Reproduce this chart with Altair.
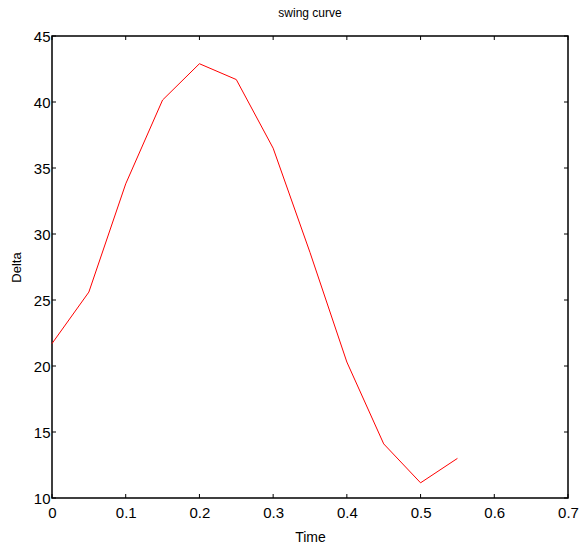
import altair as alt
import pandas as pd

time = [0, 0.05, 0.1, 0.15, 0.2, 0.25, 0.3, 0.35, 0.4, 0.45, 0.5, 0.55]
delta = [21.7, 25.6, 33.8, 40.15, 42.9, 41.7, 36.5, 28.6, 20.3, 14.1, 11.15, 13.0]
x_ticks = [0, 0.1, 0.2, 0.3, 0.4, 0.5, 0.6, 0.7]
y_ticks = [10, 15, 20, 25, 30, 35, 40, 45]

df = pd.DataFrame({"Time": time, "Delta": delta})
xt = pd.DataFrame({"t": x_ticks})
yt = pd.DataFrame({"t": y_ticks})

W, H = 516, 462
FONT = "Liberation Sans"

xscale = alt.Scale(domain=[0, 0.7], nice=False, zero=False)
yscale = alt.Scale(domain=[10, 45], nice=False, zero=False)

line = alt.Chart(df).mark_line(color="#ff0000", strokeWidth=1).encode(
    x=alt.X("Time:Q", scale=xscale, title="Time",
            axis=alt.Axis(values=x_ticks, format="~g", grid=False, ticks=False,
                          domain=False, labelPadding=7, titlePadding=10,
                          labelFontSize=15, titleFontSize=14, labelFont=FONT,
                          titleFont=FONT, labelColor="black", titleColor="black",
                          titleFontWeight="normal", labelFlush=False)),
    y=alt.Y("Delta:Q", scale=yscale, title="Delta",
            axis=alt.Axis(values=y_ticks, grid=False, ticks=False, domain=False,
                          labelPadding=2, titlePadding=10, labelFontSize=15,
                          titleFontSize=13, labelFont=FONT, titleFont=FONT,
                          labelColor="black", titleColor="black",
                          titleFontWeight="normal", labelFlush=False)),
)

tk = 4
bottom_ticks = alt.Chart(xt).mark_rule(color="black", strokeWidth=1).encode(
    x=alt.X("t:Q", scale=xscale), y=alt.value(H - tk), y2=alt.value(H))
top_ticks = alt.Chart(xt).mark_rule(color="black", strokeWidth=1).encode(
    x=alt.X("t:Q", scale=xscale), y=alt.value(0), y2=alt.value(tk))
left_ticks = alt.Chart(yt).mark_rule(color="black", strokeWidth=1).encode(
    y=alt.Y("t:Q", scale=yscale), x=alt.value(0), x2=alt.value(tk))
right_ticks = alt.Chart(yt).mark_rule(color="black", strokeWidth=1).encode(
    y=alt.Y("t:Q", scale=yscale), x=alt.value(W - tk), x2=alt.value(W))

chart = alt.layer(line, bottom_ticks, top_ticks, left_ticks, right_ticks).properties(
    width=W, height=H,
    background="white",
    title=alt.TitleParams("swing curve", fontSize=12, font=FONT, fontWeight="normal",
                          color="black", offset=9, anchor="middle"),
    autosize=alt.AutoSizeParams(type="none"),
    padding={"left": 52, "top": 36, "right": 13, "bottom": 47},
).configure_view(stroke="black", strokeWidth=1.5)

chart.save("out.html", embed_options={"renderer": "svg", "actions": False})
